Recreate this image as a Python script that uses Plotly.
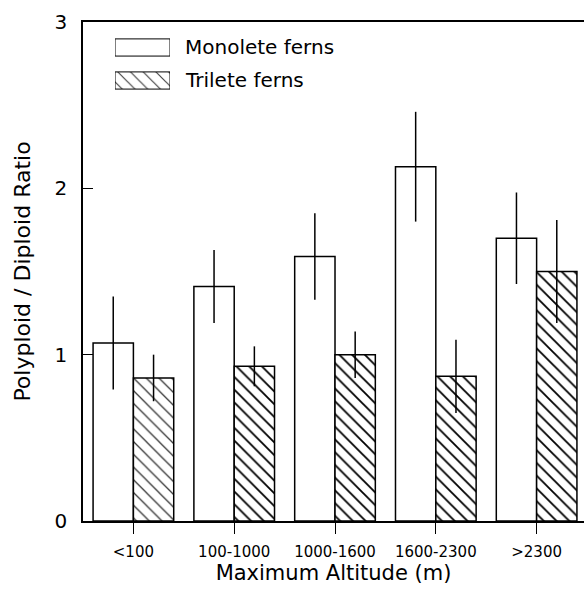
import plotly.graph_objects as go

# Altitude classes and polyploid/diploid ratios (mean ± error)
altitude = ["<100", "100-1000", "1000-1600", "1600-2300", ">2300"]
monolete = [1.07, 1.41, 1.59, 2.13, 1.70]
monolete_err = [0.28, 0.22, 0.26, 0.33, 0.275]
trilete = [0.86, 0.93, 1.00, 0.87, 1.50]
trilete_err = [0.14, 0.12, 0.14, 0.22, 0.31]

# Legend entries (drawn as large swatches in an inset axis)
legend_labels = ["Monolete ferns", "Trilete ferns"]
legend_patterns = ["", "\\"]

font = "DejaVu Sans"
hatch = dict(shape="\\", fgopacity=1, bgcolor="white", size=9)

fig = go.Figure()
fig.add_trace(go.Bar(
    name=legend_labels[0], x=altitude, y=monolete,
    marker=dict(color="white", line=dict(color="black", width=1.5)),
    error_y=dict(type="data", array=monolete_err, color="black",
                 thickness=1.5, width=0),
))
fig.add_trace(go.Bar(
    name=legend_labels[1], x=altitude, y=trilete,
    marker=dict(
        color="white", line=dict(color="black", width=1.5),
        pattern=dict(hatch, fgcolor=["#333333", "black", "black", "black", "black"],
                     solidity=[0.14, 0.2, 0.2, 0.2, 0.2]),
    ),
    error_y=dict(type="data", array=trilete_err, color="black",
                 thickness=1.5, width=0),
))

# Legend swatches
fig.add_trace(go.Bar(
    x=[1] * len(legend_labels), y=legend_labels, orientation="h",
    xaxis="x2", yaxis="y2", width=0.52, showlegend=False, hoverinfo="skip",
    marker=dict(color="white", line=dict(color="black", width=1),
                pattern=dict(hatch, shape=legend_patterns, fgcolor="#444444",
                             solidity=0.13)),
))
for lab in legend_labels:
    fig.add_annotation(text=lab, xref="x2 domain", yref="y2", x=1.24, y=lab,
                       xanchor="left", yanchor="middle", showarrow=False,
                       font=dict(size=20, family=font, color="black"))

fig.update_layout(
    width=584, height=603,
    margin=dict(l=83, r=0, t=22, b=82),
    paper_bgcolor="white", plot_bgcolor="white",
    barmode="group", bargap=0.2, bargroupgap=0,
    font=dict(family=font, color="black"),
    showlegend=False,
    xaxis=dict(
        range=[-0.5, 4.47], showline=True, linecolor="black", linewidth=1.5,
        mirror=True, ticks="outside", ticklen=11, tickcolor="black",
        tickwidth=1, showgrid=False, zeroline=False,
        tickfont=dict(size=15, family=font), ticklabelstandoff=5,
        title=dict(text="Maximum Altitude (m)", font=dict(size=21, family=font),
                   standoff=5),
    ),
    yaxis=dict(
        range=[0, 3], tickvals=[0, 1, 2, 3], showline=True, linecolor="black",
        linewidth=1.5, ticks="inside", ticklen=10, tickcolor="black",
        tickwidth=1, showgrid=False, zeroline=False,
        tickfont=dict(size=20, family=font), ticklabelstandoff=10,
        title=dict(text="Polyploid / Diploid Ratio", font=dict(size=22, family=font),
                   standoff=18),
    ),
    xaxis2=dict(domain=[0.0639, 0.1737], range=[0, 1], anchor="y2",
                visible=False, fixedrange=True),
    yaxis2=dict(domain=[0.8497, 0.9820], range=[1.5, -0.5], anchor="x2",
                visible=False, fixedrange=True),
)

fig.write_html("out.html")
